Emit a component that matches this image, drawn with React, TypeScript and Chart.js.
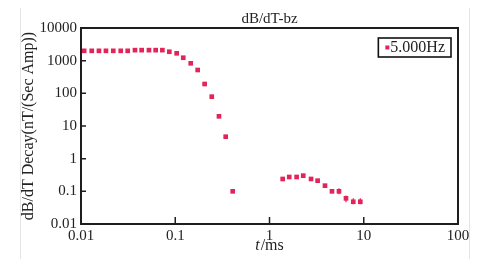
import React, { useEffect, useRef } from 'react';
import { Chart, registerables } from 'chart.js';
Chart.register(...registerables);

const chartTitle = 'dB/dT-bz';
const yAxisTitle = 'dB/dT Decay(nT/(Sec Amp))';
const xAxisTitleItalic = 't';
const xAxisTitleRest = '/ms';
const seriesLabel = '5.000Hz';

const times = [
  0.0108, 0.013, 0.0155, 0.0184, 0.022, 0.0264, 0.0313, 0.0374, 0.044, 0.0526, 0.062,
  0.073, 0.0865, 0.1035, 0.1216, 0.146, 0.173, 0.205, 0.244, 0.291, 0.343, 0.407,
  1.38, 1.62, 1.94, 2.28, 2.76, 3.24, 3.88, 4.6, 5.46, 6.48, 7.74, 9.19,
];
const values = [
  2000, 2000, 2000, 2000, 2000, 2000, 2000, 2100, 2100, 2100, 2100,
  2100, 1880, 1680, 1230, 830, 518, 193, 79, 19.8, 4.7, 0.1,
  0.239, 0.275, 0.275, 0.302, 0.239, 0.212, 0.149, 0.1, 0.1, 0.061, 0.048, 0.048,
];
const errLow: (number | null)[] = [
  null, null, null, null, null, null, null, null, null, null, null,
  null, null, null, null, null, null, null, null, null, null, null,
  null, null, null, null, null, null, null, null, 0.081, 0.046, 0.04, 0.04,
];
const errHigh: (number | null)[] = [
  null, null, null, null, null, null, null, null, null, null, null,
  null, null, null, null, null, null, null, null, null, null, null,
  null, null, null, null, null, null, null, null, 0.124, 0.074, 0.061, 0.061,
];

const xTickValues = [0.01, 0.1, 1, 10, 100];
const xTickLabels = ['0.01', '0.1', '1', '10', '100'];
const yTickValues = [0.01, 0.1, 1, 10, 100, 1000, 10000];
const yTickLabels = ['0.01', '0.1', '1', '10', '100', '1000', '10000'];

const FONT = '"Liberation Serif", "Times New Roman", serif';
const TEXT = '#222222';
const POINT = '#E3245A';

const customPlugin = {
  id: 'customFrame',
  beforeDraw(chart: any) {
    const ctx = chart.ctx;
    ctx.save();
    ctx.strokeStyle = '#e4e4e4';
    ctx.lineWidth = 1;
    ctx.beginPath();
    ctx.moveTo(20.5, 8);
    ctx.lineTo(20.5, chart.height);
    ctx.moveTo(469.5, 8);
    ctx.lineTo(469.5, chart.height);
    ctx.stroke();
    ctx.restore();
  },
  beforeDatasetsDraw(chart: any) {
    const ctx = chart.ctx;
    const xs = chart.scales.x;
    const ys = chart.scales.y;
    ctx.save();
    ctx.strokeStyle = POINT;
    ctx.lineWidth = 1.2;
    for (let i = 0; i < times.length; i++) {
      const lo = errLow[i];
      const hi = errHigh[i];
      if (lo == null || hi == null) continue;
      const px = xs.getPixelForValue(times[i]);
      ctx.beginPath();
      ctx.moveTo(px, ys.getPixelForValue(lo));
      ctx.lineTo(px, ys.getPixelForValue(hi));
      ctx.stroke();
    }
    ctx.restore();
  },
  afterDraw(chart: any) {
    const ctx = chart.ctx;
    const a = chart.chartArea;
    const xs = chart.scales.x;
    const ys = chart.scales.y;
    ctx.save();
    // frame
    ctx.strokeStyle = '#1e1e1e';
    ctx.lineWidth = 2;
    ctx.strokeRect(a.left, a.top, a.right - a.left, a.bottom - a.top);
    // inward ticks
    ctx.lineWidth = 1.5;
    ctx.beginPath();
    for (const v of yTickValues) {
      const py = ys.getPixelForValue(v);
      if (py <= a.top + 1 || py >= a.bottom - 1) continue;
      ctx.moveTo(a.left, py);
      ctx.lineTo(a.left + 5, py);
    }
    for (const v of xTickValues) {
      const px = xs.getPixelForValue(v);
      if (px <= a.left + 1 || px >= a.right - 1) continue;
      ctx.moveTo(px, a.bottom);
      ctx.lineTo(px, a.bottom - 7);
    }
    ctx.stroke();

    // x axis title with italic t
    ctx.fillStyle = TEXT;
    ctx.textBaseline = 'middle';
    ctx.textAlign = 'left';
    const italicFont = 'italic 16px ' + FONT;
    const normalFont = '16px ' + FONT;
    ctx.font = italicFont;
    const w1 = ctx.measureText(xAxisTitleItalic).width;
    ctx.font = normalFont;
    const w2 = ctx.measureText(xAxisTitleRest).width;
    const cx = (a.left + a.right) / 2;
    const ty = 246;
    const startX = cx - (w1 + w2 + 1) / 2;
    ctx.font = italicFont;
    ctx.fillText(xAxisTitleItalic, startX, ty);
    ctx.font = normalFont;
    ctx.fillText(xAxisTitleRest, startX + w1 + 1, ty);

    // legend
    const label = chart.data.datasets[0].label;
    ctx.font = '16px ' + FONT;
    const tw = ctx.measureText(label).width;
    const boxRight = a.right - 7;
    const boxTop = a.top + 10;
    const boxH = 19;
    const boxW = tw + 18;
    const boxLeft = boxRight - boxW;
    ctx.strokeStyle = '#111';
    ctx.lineWidth = 1.6;
    ctx.strokeRect(boxLeft, boxTop, boxW, boxH);
    ctx.fillStyle = POINT;
    ctx.fillRect(boxLeft + 7, boxTop + boxH / 2 - 2, 4, 4);
    ctx.fillStyle = TEXT;
    ctx.textBaseline = 'middle';
    ctx.fillText(label, boxLeft + 12, boxTop + boxH / 2 + 0.5);
    ctx.restore();
  },
};

export default function App() {
  const ref = useRef<HTMLCanvasElement | null>(null);
  useEffect(() => {
    if (!ref.current) return;
    const chart = new Chart(ref.current, {
      type: 'scatter',
      data: {
        datasets: [
          {
            label: seriesLabel,
            data: times.map((t, i) => ({ x: t, y: values[i] })),
            pointStyle: 'rect',
            pointRadius: 3.3,
            pointBorderWidth: 0,
            backgroundColor: POINT,
            borderColor: POINT,
            showLine: false,
          },
        ],
      },
      options: {
        animation: false,
        responsive: false,
        maintainAspectRatio: false,
        layout: { padding: { left: 0, right: 27, top: 0, bottom: 0 } },
        plugins: {
          legend: { display: false },
          tooltip: { enabled: false },
          title: {
            display: true,
            text: chartTitle,
            fullSize: false,
            color: TEXT,
            font: { family: FONT, size: 15, weight: 'normal', lineHeight: 1 },
            padding: { top: 12, bottom: 1 },
          },
        },
        scales: {
          x: {
            type: 'logarithmic',
            min: 0.01,
            max: 100,
            afterBuildTicks: (s: any) => {
              s.ticks = xTickValues.map((v) => ({ value: v }));
            },
            afterFit: (s: any) => {
              s.height = 35;
            },
            grid: { display: false, drawTicks: false },
            border: { display: false },
            ticks: {
              autoSkip: false,
              maxRotation: 0,
              padding: 3,
              color: TEXT,
              font: { family: FONT, size: 15 },
              callback: (v: any) => {
                const i = xTickValues.indexOf(Number(v));
                return i >= 0 ? xTickLabels[i] : '';
              },
            },
          },
          y: {
            type: 'logarithmic',
            min: 0.01,
            max: 10000,
            afterBuildTicks: (s: any) => {
              s.ticks = yTickValues.map((v) => ({ value: v }));
            },
            afterFit: (s: any) => {
              s.width = 81;
            },
            grid: { display: false, drawTicks: false },
            border: { display: false },
            title: {
              display: true,
              text: yAxisTitle,
              color: TEXT,
              font: { family: FONT, size: 16, lineHeight: 1 },
              padding: { top: 21, bottom: 0 },
            },
            ticks: {
              autoSkip: false,
              padding: 4,
              color: TEXT,
              font: { family: FONT, size: 15 },
              callback: (v: any) => {
                const i = yTickValues.indexOf(Number(v));
                return i >= 0 ? yTickLabels[i] : '';
              },
            },
          },
        },
      },
      plugins: [customPlugin],
    });
    return () => chart.destroy();
  }, []);
  return (
    <div style={{ position: 'fixed', left: 0, top: 0, width: 485, height: 259, background: '#fff' }}>
      <canvas ref={ref} width={485} height={259} style={{ width: 485, height: 259, display: 'block' }} />
    </div>
  );
}
